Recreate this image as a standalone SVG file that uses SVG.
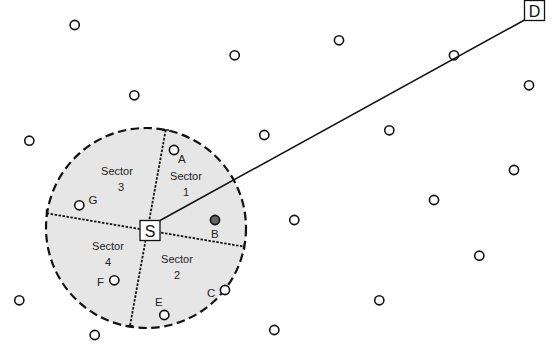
<svg xmlns="http://www.w3.org/2000/svg" width="552" height="352" viewBox="0 0 552 352">
  <style>
    .zone { fill: #e6e6e6; stroke: #111; stroke-width: 2.2; stroke-dasharray: 8.5 4.5; }
    .divider { stroke: #111; stroke-width: 1.8; stroke-dasharray: 2.5 1.5; fill: none; }
    .tick { stroke: #111; stroke-width: 1.5; }
    .node { fill: #fff; stroke: #111; stroke-width: 1.6; }
    .node.busy { fill: #666; }
    .link { stroke: #111; stroke-width: 1.5; fill: none; }
    .box { fill: #fff; stroke: #111; stroke-width: 1.3; }
    .lbl { font-family: "Liberation Sans", Arial, sans-serif; font-size: 11.5px; fill: #222; }
    .sec { font-family: "Liberation Sans", Arial, sans-serif; font-size: 11px; fill: #222; text-anchor: middle; }
    .big { font-family: "Liberation Sans", Arial, sans-serif; font-size: 16px; fill: #111; text-anchor: middle; }
  </style>

  <!-- coverage disc around the source, split into four sectors -->
  <g id="zone">
    <circle class="zone" cx="146" cy="228" r="100"/>
    <line class="divider" x1="46.7" y1="213.3" x2="244.5" y2="246.7"/>
    <line class="divider" x1="165.7" y1="130" x2="130" y2="325.7"/>
    <line class="tick" x1="46.5" y1="209.5" x2="46.5" y2="217"/>
    <line class="tick" x1="162" y1="130" x2="169" y2="130"/>
    <line class="tick" x1="126.5" y1="325.7" x2="133.5" y2="325.7"/>
    <line class="tick" x1="244.5" y1="243" x2="244.5" y2="250"/>
    <text class="sec" x="117" y="175">Sector</text>
    <text class="sec" x="121" y="191">3</text>
    <text class="sec" x="186" y="180">Sector</text>
    <text class="sec" x="186" y="196">1</text>
    <text class="sec" x="108" y="250">Sector</text>
    <text class="sec" x="108" y="266">4</text>
    <text class="sec" x="177" y="263">Sector</text>
    <text class="sec" x="177" y="279">2</text>
  </g>

  <!-- scattered nodes -->
  <g id="n1"><circle class="node" cx="74.7" cy="25" r="4.6"/></g>
  <g id="n2"><circle class="node" cx="134.3" cy="95.3" r="4.6"/></g>
  <g id="n3"><circle class="node" cx="234.7" cy="55.3" r="4.6"/></g>
  <g id="n4"><circle class="node" cx="339" cy="40.3" r="4.6"/></g>
  <g id="n5"><circle class="node" cx="454" cy="55.3" r="4.6"/></g>
  <g id="n6"><circle class="node" cx="529" cy="85.3" r="4.6"/></g>
  <g id="n7"><circle class="node" cx="29.3" cy="140.7" r="4.6"/></g>
  <g id="n8"><circle class="node" cx="264.3" cy="135" r="4.6"/></g>
  <g id="n9"><circle class="node" cx="389.3" cy="130.3" r="4.6"/></g>
  <g id="n10"><circle class="node" cx="514" cy="170" r="4.6"/></g>
  <g id="n11"><circle class="node" cx="434" cy="200" r="4.6"/></g>
  <g id="n12"><circle class="node" cx="294.3" cy="220" r="4.6"/></g>
  <g id="n13"><circle class="node" cx="479.3" cy="255.7" r="4.6"/></g>
  <g id="n14"><circle class="node" cx="19.3" cy="300.3" r="4.6"/></g>
  <g id="n15"><circle class="node" cx="94.7" cy="335" r="4.6"/></g>
  <g id="n16"><circle class="node" cx="274.3" cy="330" r="4.6"/></g>
  <g id="n17"><circle class="node" cx="379.3" cy="300.3" r="4.6"/></g>

  <!-- labelled neighbours -->
  <g id="A"><circle class="node" cx="174" cy="150" r="4.6"/><text class="lbl" x="178" y="163">A</text></g>
  <g id="B"><circle class="node busy" cx="215" cy="220" r="4.6"/><text class="lbl" x="211" y="238">B</text></g>
  <g id="C"><circle class="node" cx="225" cy="290" r="4.6"/><text class="lbl" x="207" y="296.5">C</text></g>
  <g id="E"><circle class="node" cx="164.3" cy="315" r="4.6"/><text class="lbl" x="155" y="305.5">E</text></g>
  <g id="F"><circle class="node" cx="114.3" cy="280.3" r="4.6"/><text class="lbl" x="97" y="285.5">F</text></g>
  <g id="G"><circle class="node" cx="79.3" cy="205.3" r="4.6"/><text class="lbl" x="88.5" y="204">G</text></g>

  <!-- route from source to destination -->
  <g id="connectors">
    <line class="link" x1="160" y1="220.5" x2="524.5" y2="20"/>
  </g>

  <g id="S">
    <rect class="box" x="140" y="220.5" width="20" height="20"/>
    <text class="big" x="150" y="236.5">S</text>
  </g>
  <g id="D">
    <rect class="box" x="524.5" y="0.5" width="20" height="20"/>
    <text class="big" x="534.5" y="16.5">D</text>
  </g>
</svg>
